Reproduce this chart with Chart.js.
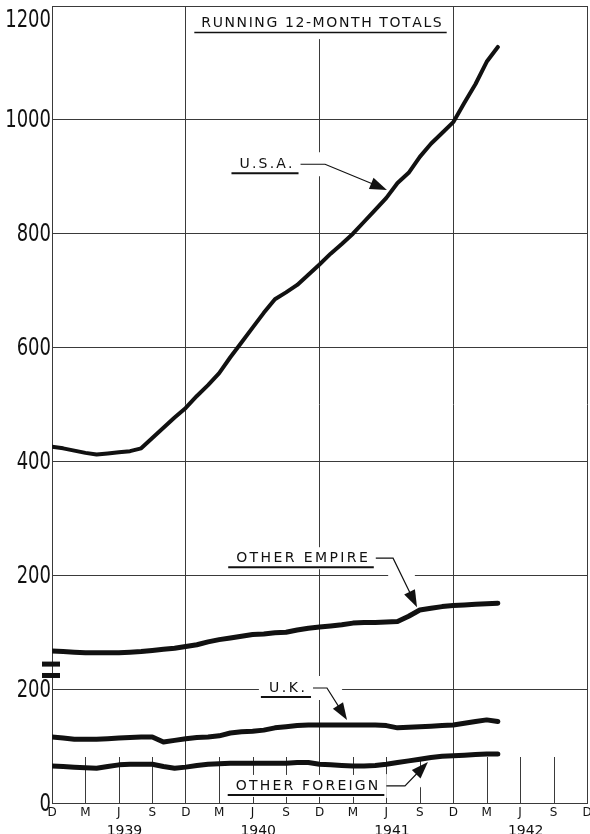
<!DOCTYPE html>
<html>
<head>
<meta charset="utf-8">
<script src="https://cdn.jsdelivr.net/npm/chart.js@4.4.0/dist/chart.umd.min.js"></script>
<style>
  html, body { margin: 0; padding: 0; background: #fff; }
  #chart { display: block; }
</style>
</head>
<body>
<canvas id="chart" width="590" height="834"></canvas>
<script>
// --- Data: running 12-month totals ---
const months = [
    "Dec 1938",
    "Jan 1939", "Feb 1939", "Mar 1939", "Apr 1939", "May 1939", "Jun 1939",
    "Jul 1939", "Aug 1939", "Sep 1939", "Oct 1939", "Nov 1939", "Dec 1939",
    "Jan 1940", "Feb 1940", "Mar 1940", "Apr 1940", "May 1940", "Jun 1940",
    "Jul 1940", "Aug 1940", "Sep 1940", "Oct 1940", "Nov 1940", "Dec 1940",
    "Jan 1941", "Feb 1941", "Mar 1941", "Apr 1941", "May 1941", "Jun 1941",
    "Jul 1941", "Aug 1941", "Sep 1941", "Oct 1941", "Nov 1941", "Dec 1941",
    "Jan 1942", "Feb 1942", "Mar 1942", "Apr 1942"
];

// upper panel (read on the upper scale)
const usa = [426, 423, 419, 415, 412, 414, 416, 418, 423, 441, 459, 477, 494,
    515, 534, 555, 583, 609, 635, 661, 685, 697, 710, 728, 746,
    765, 782, 800, 821, 842, 863, 889, 907, 935, 958, 977, 996,
    1030, 1063, 1102, 1128];
const otherEmpire = [67, 66, 65, 64, 64, 64, 64, 65, 66, 68, 70, 72, 75,
    78, 83, 87, 90, 93, 96, 97, 99, 100, 104, 107, 109,
    111, 113, 116, 117, 117, 118, 119, 128, 139, 142, 145, 147,
    148, 149, 150, 151];

// lower panel (read on the lower scale)
const uk = [116, 114, 112, 112, 112, 113, 114, 115, 116, 116, 107, 110, 113,
    115, 116, 118, 123, 125, 126, 128, 132, 134, 136, 137, 137,
    137, 137, 137, 137, 137, 136, 132, 133, 134, 135, 136, 137,
    140, 143, 146, 143];
const otherForeign = [65, 64, 63, 62, 61, 64, 67, 68, 68, 68, 64, 61, 63,
    66, 68, 69, 70, 70, 70, 70, 70, 70, 71, 71, 68,
    67, 66, 65, 65, 66, 68, 71, 74, 77, 80, 82, 83,
    84, 85, 86, 86];

// broken axis: upper scale 0 sits on the lower scale's 200 line
const breakOffset = 200;
const yTickLabels = ["0", "200", "200", "400", "600", "800", "1000", "1200"];
const quarterLetters = ["D", "M", "J", "S"];
const years = ["1939", "1940", "1941", "1942"];

const ink = "#111";
const gridColor = "#3a3a3a";
const letterFont = '"DejaVu Sans", sans-serif';

function up(v) { return v + breakOffset; }

function toPoints(values, offset) {
    return values.map((v, i) => ({x: i, y: v + offset}));
}

// --- Labels with leader arrows (month index, plotted value) ---
const notes = [
    {text: "U.S.A.", m: 19.2, v: up(922), spacing: 2.2, bend: 24.5, tip: [30.05, up(877)], box: false},
    {text: "OTHER EMPIRE", m: 22.43, v: up(230), spacing: 2.4, bend: 30.6, tip: [32.75, up(144)], box: true},
    {text: "U.K.", m: 21.08, v: 202, spacing: 2.6, bend: 24.67, tip: [26.47, 146], box: true},
    {text: "OTHER FOREIGN", m: 22.88, v: 30, spacing: 2.2, bend: 31.67, tip: [33.73, 72], box: true}
];
const title = {text: "RUNNING 12-MONTH TOTALS", m: 24.18, v: 1370, spacing: 1.6};

function spacedWidth(ctx, text, spacing) {
    let w = 0;
    for (const ch of text) w += ctx.measureText(ch).width;
    return w + spacing * (text.length - 1);
}

function drawSpaced(ctx, text, cx, cy, spacing) {
    let x = cx - spacedWidth(ctx, text, spacing) / 2;
    ctx.textAlign = "left";
    ctx.textBaseline = "middle";
    for (const ch of text) {
        ctx.fillText(ch, x, cy);
        x += ctx.measureText(ch).width + spacing;
    }
}

function noteGeometry(chart, ctx, n) {
    const xs = chart.scales.x, ys = chart.scales.y;
    ctx.font = "14px " + letterFont;
    const cx = xs.getPixelForValue(n.m), cy = ys.getPixelForValue(n.v);
    const w = spacedWidth(ctx, n.text, n.spacing);
    const left = cx - w / 2, right = cx + w / 2;
    const start = {x: right + 8, y: cy};
    const bend = {x: xs.getPixelForValue(n.bend), y: cy};
    const tip = {x: xs.getPixelForValue(n.tip[0]), y: ys.getPixelForValue(n.tip[1])};
    return {cx, cy, left, right, start, bend, tip};
}

const decorPlugin = {
    id: "decor",
    beforeDatasetsDraw(chart) {
        const ctx = chart.ctx, area = chart.chartArea;
        const xs = chart.scales.x, ys = chart.scales.y;
        ctx.save();

        // short quarter ticks along the bottom
        ctx.strokeStyle = gridColor;
        ctx.lineWidth = 1;
        for (let q = 3; q < 48; q += 3) {
            if (q % 12 === 0) continue;
            const x = Math.round(xs.getPixelForValue(q)) + 0.5;
            ctx.beginPath();
            ctx.moveTo(x, area.bottom);
            ctx.lineTo(x, area.bottom - 46);
            ctx.stroke();
        }

        // clear the grid behind labels and leaders
        ctx.fillStyle = "#fff";
        ctx.strokeStyle = "#fff";
        notes.forEach(n => {
            const g = noteGeometry(chart, ctx, n);
            if (n.box) ctx.fillRect(g.left - 10, g.cy - 11, g.right - g.left + 18, 22);
            ctx.lineWidth = 24;
            ctx.beginPath();
            ctx.moveTo(g.start.x, g.start.y);
            ctx.lineTo(g.bend.x, g.bend.y);
            const dx = g.tip.x - g.bend.x, dy = g.tip.y - g.bend.y;
            const len = Math.hypot(dx, dy);
            ctx.lineTo(g.tip.x - dx / len * 14, g.tip.y - dy / len * 14);
            ctx.stroke();
        });

        // title panel
        ctx.font = "14px " + letterFont;
        const tcx = xs.getPixelForValue(title.m), tcy = ys.getPixelForValue(title.v);
        const tw = spacedWidth(ctx, title.text, title.spacing);
        ctx.fillRect(tcx - tw / 2 - 10, area.top + 1, tw + 18, tcy - area.top + 15);
        ctx.restore();
    },
    afterDatasetsDraw(chart) {
        const ctx = chart.ctx, xs = chart.scales.x, ys = chart.scales.y;
        ctx.save();
        ctx.fillStyle = ink;
        ctx.strokeStyle = ink;

        // title
        ctx.font = "14px " + letterFont;
        const tcx = xs.getPixelForValue(title.m), tcy = ys.getPixelForValue(title.v);
        const tw = spacedWidth(ctx, title.text, title.spacing);
        drawSpaced(ctx, title.text, tcx, tcy, title.spacing);
        ctx.lineWidth = 1.5;
        ctx.beginPath();
        ctx.moveTo(tcx - tw / 2 - 7, tcy + 9.5);
        ctx.lineTo(tcx + tw / 2 + 5, tcy + 9.5);
        ctx.stroke();

        notes.forEach(n => {
            const g = noteGeometry(chart, ctx, n);
            ctx.font = "14px " + letterFont;
            drawSpaced(ctx, n.text, g.cx, g.cy, n.spacing);
            // underline
            ctx.lineWidth = 2;
            ctx.beginPath();
            ctx.moveTo(g.left - 8, g.cy + 9);
            ctx.lineTo(g.right + 6, g.cy + 9);
            ctx.stroke();
            // leader
            const dx = g.tip.x - g.bend.x, dy = g.tip.y - g.bend.y;
            const len = Math.hypot(dx, dy);
            const ux = dx / len, uy = dy / len;
            ctx.lineWidth = 1.2;
            ctx.beginPath();
            ctx.moveTo(g.start.x, g.start.y);
            ctx.lineTo(g.bend.x, g.bend.y);
            ctx.lineTo(g.tip.x - ux * 10, g.tip.y - uy * 10);
            ctx.stroke();
            // arrow head
            const hl = 17, hw = 6;
            ctx.beginPath();
            ctx.moveTo(g.tip.x, g.tip.y);
            ctx.lineTo(g.tip.x - ux * hl - uy * hw, g.tip.y - uy * hl + ux * hw);
            ctx.lineTo(g.tip.x - ux * hl + uy * hw, g.tip.y - uy * hl - ux * hw);
            ctx.closePath();
            ctx.fill();
        });
        ctx.restore();
    },
    afterDraw(chart) {
        const ctx = chart.ctx, area = chart.chartArea;
        const xs = chart.scales.x, ys = chart.scales.y;
        ctx.save();
        ctx.fillStyle = ink;

        // y labels, narrow hand-lettered look
        ctx.font = '25px "DejaVu Sans Condensed", "DejaVu Sans", sans-serif';
        ctx.textAlign = "right";
        ctx.textBaseline = "middle";
        yTickLabels.forEach((label, i) => {
            const py = Math.max(ys.getPixelForValue(i * 200), area.top + 13);
            ctx.save();
            ctx.translate(area.left - 1, py + 1);
            ctx.scale(0.8, 1);
            ctx.fillText(label, 0, 0);
            ctx.restore();
        });

        // axis break marks
        [244, 224].forEach(v => {
            const py = ys.getPixelForValue(v);
            ctx.fillRect(area.left - 10, py - 2.5, 18, 5);
        });

        // quarter letters and years
        ctx.font = "12px " + letterFont;
        ctx.textAlign = "center";
        for (let q = 0; q <= 48; q += 3) {
            ctx.fillText(quarterLetters[(q / 3) % 4], xs.getPixelForValue(q), area.bottom + 10);
        }
        ctx.font = "14px " + letterFont;
        ctx.textBaseline = "top";
        years.forEach((y, k) => {
            ctx.fillText(y, xs.getPixelForValue(6.5 + 12 * k), area.bottom + 21);
        });
        ctx.restore();
    }
};

const lineStyle = {
    borderColor: ink,
    backgroundColor: ink,
    pointRadius: 0,
    tension: 0,
    fill: false,
    borderJoinStyle: "round",
    borderCapStyle: "round"
};

new Chart(document.getElementById("chart"), {
    type: "line",
    data: {
        labels: months,
        datasets: [
            {label: "U.S.A.", data: toPoints(usa, breakOffset), borderWidth: 4, ...lineStyle},
            {label: "Other Empire", data: toPoints(otherEmpire, breakOffset), borderWidth: 5, ...lineStyle},
            {label: "U.K.", data: toPoints(uk, 0), borderWidth: 5, ...lineStyle},
            {label: "Other Foreign", data: toPoints(otherForeign, 0), borderWidth: 5, ...lineStyle}
        ]
    },
    options: {
        responsive: false,
        devicePixelRatio: 1,
        animation: false,
        layout: {padding: {top: 6, right: 3, left: 0, bottom: 0}},
        plugins: {legend: {display: false}, tooltip: {enabled: false}},
        scales: {
            x: {
                type: "linear",
                min: 0,
                max: 48,
                ticks: {stepSize: 3, display: false},
                grid: {
                    color: c => (c.tick && c.tick.value % 12 === 0) ? gridColor : "rgba(0,0,0,0)",
                    lineWidth: 1,
                    drawTicks: false
                },
                border: {display: true, color: gridColor, width: 1},
                afterFit: s => { s.height = 31; }
            },
            y: {
                type: "linear",
                min: 0,
                max: 1400,
                ticks: {stepSize: 200, display: false},
                grid: {color: gridColor, lineWidth: 1, drawTicks: false},
                border: {display: true, color: gridColor, width: 1},
                afterFit: s => { s.width = 52; }
            }
        }
    },
    plugins: [decorPlugin]
});
</script>
</body>
</html>
